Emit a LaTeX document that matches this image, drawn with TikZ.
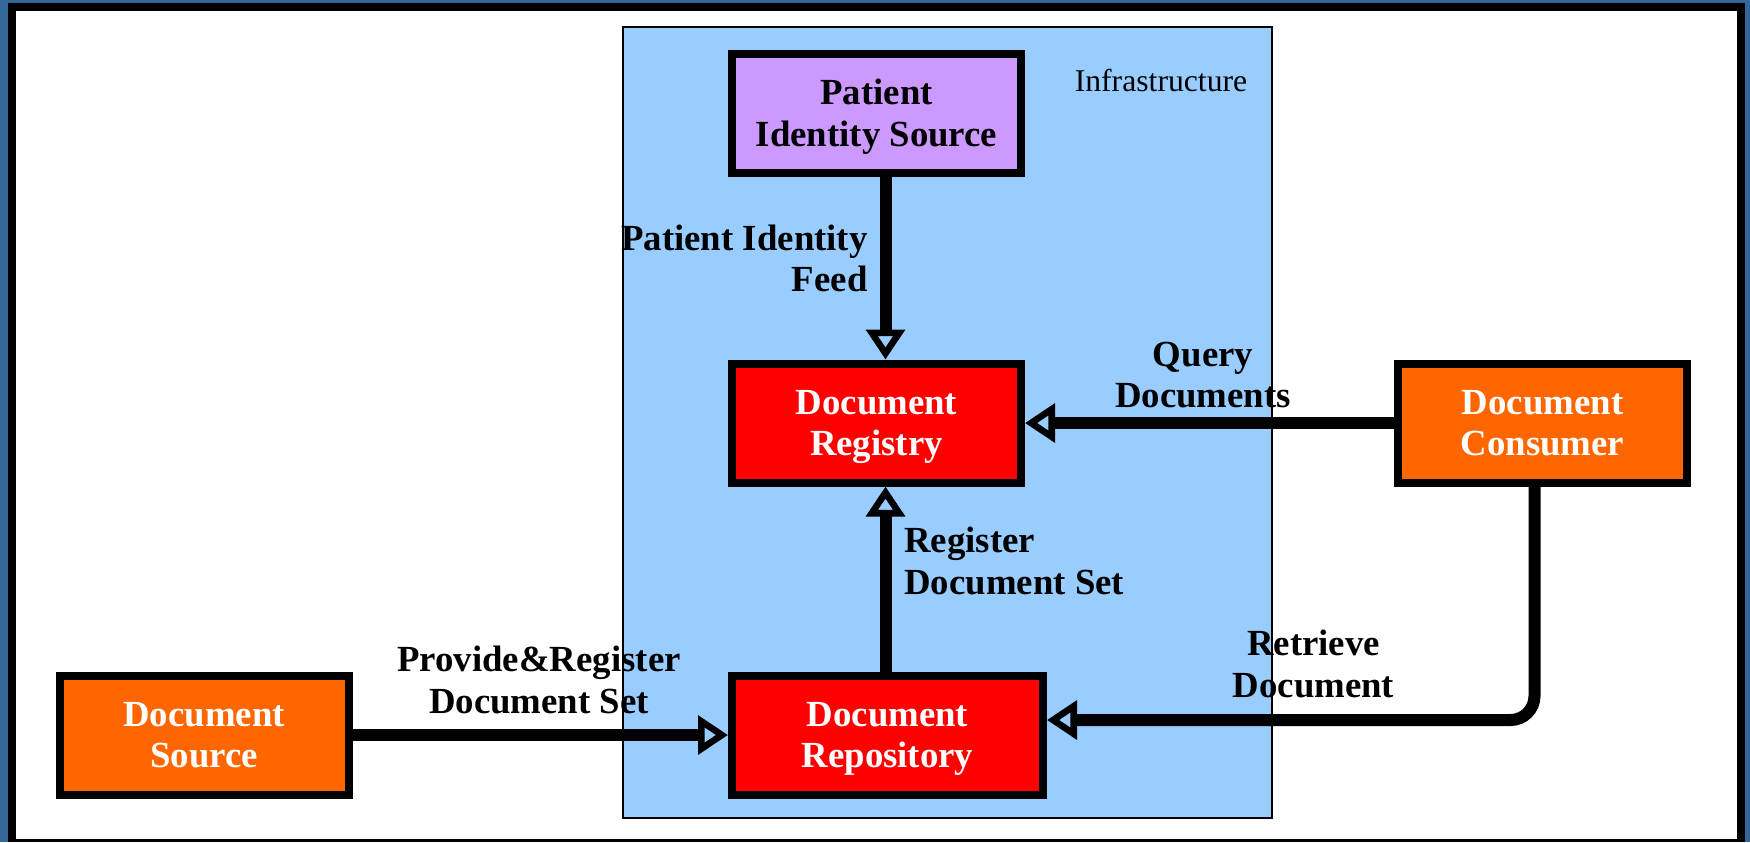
\documentclass[tikz,border=0pt]{standalone}
\usepackage{fontspec}
\setmainfont{Liberation Serif}
\usetikzlibrary{arrows.meta,calc}
\definecolor{outerblue}{HTML}{336699}
\definecolor{infrablue}{HTML}{99CCFF}
\definecolor{lav}{HTML}{CC99FF}
\definecolor{regred}{HTML}{FF0000}
\definecolor{orng}{HTML}{FF6600}
\tikzset{
  actor/.style={draw=black, line width=4pt, inner sep=0pt, align=center,
    minimum width=144.5pt, minimum height=59.5pt, text depth=0pt,
    font=\fontsize{18.4}{20.9}\selectfont\bfseries},
  lbl/.style={inner sep=0pt, font=\fontsize{18.4}{20.9}\selectfont\bfseries},
  arr/.style={line width=6pt,
    -{Triangle[open,length=15pt,width=19pt,line width=3.3pt]}},
}
\begin{document}
\begin{tikzpicture}[x=0.5pt,y=-0.5pt]
\useasboundingbox (0,0) rectangle (1750,842);
\fill[outerblue] (0,0) rectangle (1750,842);
\fill[black] (8,3) rectangle (1745,842);
\fill[white] (16,11) rectangle (1737,839);
\filldraw[fill=infrablue, draw=black, line width=0.7pt] (623,27) rectangle (1272,818);
\node[inner sep=0pt, font=\fontsize{15.85}{18}\selectfont] (infra) at (1161,80) {Infrastructure};

\node[actor, fill=lav] (pis) at (876.5,113) {Patient\\Identity Source};
\node[actor, fill=regred, text=white] (reg) at (876.5,423) {Document\\Registry};
\node[actor, fill=regred, text=white, minimum width=155.5pt] (repo) at (887.5,735) {Document\\Repository};
\node[actor, fill=orng, text=white] (src) at (204,735) {Document\\Source};
\node[actor, fill=orng, text=white] (cons) at (1542.5,423) {Document\\Consumer};

\draw[arr] ([xshift=4.5pt]pis.south) -- ([xshift=4.5pt]reg.north);
\draw[arr] ([xshift=4.5pt]reg.south |- repo.north) -- ([xshift=4.5pt]reg.south);
\draw[arr] (cons.west) -- (reg.east);
\draw[arr] (src.east) -- (repo.west);
\draw[arr, rounded corners=12pt] ([xshift=-4pt]cons.south) |- ([yshift=7.5pt]repo.east);

\node[lbl, align=right, anchor=east] (lpif) at (868,258.5) {Patient Identity\\Feed};
\node[lbl, align=center] (lqd) at (1203,375) {Query\\Documents};
\node[lbl, align=left, anchor=west] (lrds) at (904,561) {Register\\Document Set};
\node[lbl, align=center] (lrd) at (1313.5,664) {Retrieve\\Document};
\node[lbl, align=center] (lprd) at (539,680) {Provide\&Register\\Document Set};
\end{tikzpicture}
\end{document}
